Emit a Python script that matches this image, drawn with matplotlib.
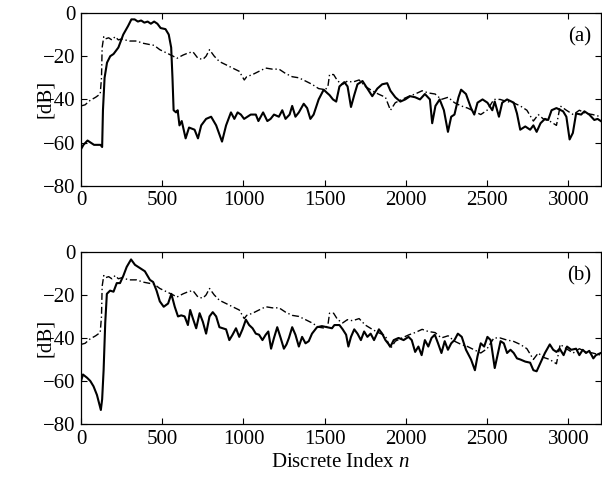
import numpy as np
import matplotlib
matplotlib.use("Agg")
import matplotlib.pyplot as plt

plt.rcParams['font.family'] = ['Liberation Serif', 'DejaVu Serif']
plt.rcParams['mathtext.fontset'] = 'custom'
plt.rcParams['mathtext.rm'] = 'Liberation Serif'
plt.rcParams['mathtext.it'] = 'Liberation Serif:italic'

# Reference (dash-dot) curve, identical in both panels
ref_pts = [(0,-43),(25,-42.5),(55,-40.5),(90,-39),(118,-37.5),(126,-30),(130,-16),(140,-11),(150,-12),
           (170,-11.5),(190,-12.5),(210,-11),(230,-12.5),(250,-12),(271,-12.5),(300,-13),(342,-13),
           (380,-14),(414,-14.5),(450,-15),(485,-17),(526,-18.5),(567,-20),(590,-21),(628,-19.5),
           (660,-18.5),(689,-18),(720,-21),(750,-21.5),(770,-20),(791,-17),(820,-20),(852,-22.5),
           (893,-24),(933,-25.5),(974,-27),(1005,-31),(1020,-29.5),(1056,-28.5),(1096,-27),(1137,-25.5),
           (1178,-26),(1219,-26),(1259,-28),(1300,-29.5),(1341,-30),(1382,-31.5),(1422,-33),(1463,-35),
           (1504,-35.5),(1520,-34),(1530,-28.5),(1555,-28.5),(1580,-31.5),(1611,-33),(1640,-31.5),
           (1672,-32),(1712,-31),(1750,-34),(1793,-36),(1830,-37.5),(1874,-39),(1905,-45),(1935,-41.5),
           (1976,-40),(2020,-38.5),(2057,-37.5),(2100,-36),(2138,-37),(2180,-37.5),(2218,-40),(2260,-39),
           (2299,-41.5),(2340,-43),(2380,-44),(2420,-45.5),(2461,-47),(2500,-45),(2542,-40),(2580,-40),
           (2623,-41),(2660,-41.5),(2704,-43),(2745,-45),(2785,-50),(2815,-47),(2846,-49),(2885,-50),
           (2927,-52),(2950,-43),(2988,-45),(3030,-47),(3068,-45),(3110,-46.5),(3150,-47),(3200,-48)]

# Panel (a) solid curve
a_pts = [(0,-63),(15,-61),(40,-59),(60,-60),(80,-61),(100,-61),(120,-61),(130,-62),(135,-45),(145,-30),
         (160,-23),(180,-20),(200,-19),(230,-16),(260,-10),(290,-6),(310,-3),(330,-3),(350,-4),(370,-3.5),
         (390,-4.5),(410,-4),(430,-5),(450,-4),(470,-5),(490,-7),(520,-7.5),(540,-10),(555,-16),(563,-30),
         (570,-45),(585,-46),(595,-45),(606,-52),(620,-50),(644,-58),(665,-53),(699,-54),(720,-58),(740,-52),
         (770,-49),(801,-48),(832,-52),(868,-59.5),(893,-52),(923,-46),(944,-49),(964,-46),(984,-47),
         (1004,-49),(1025,-48),(1045,-47),(1076,-47),(1092,-50),(1121,-46),(1147,-50),(1167,-49),(1188,-47),
         (1218,-48),(1239,-45),(1259,-49),(1284,-47),(1300,-43),(1320,-48),(1341,-46),(1371,-42),(1392,-44),
         (1412,-49),(1432,-47),(1463,-40),(1494,-35.5),(1515,-37),(1530,-38),(1551,-40),(1571,-41),
         (1591,-34),(1621,-32),(1641,-34),(1662,-43.5),(1682,-38),(1702,-33),(1733,-31.5),(1763,-35),
         (1793,-38.5),(1824,-35),(1854,-33),(1885,-32.5),(1905,-36),(1935,-39),(1966,-41),(1996,-40),
         (2026,-38.5),(2057,-39),(2087,-40),(2117,-37.5),(2148,-40),(2162,-51),(2182,-43),(2208,-40),
         (2234,-45),(2259,-55),(2279,-48),(2299,-47),(2324,-39),(2340,-35.5),(2370,-37.5),(2401,-44),
         (2421,-47),(2441,-41.5),(2472,-40),(2502,-41.5),(2532,-45),(2547,-41),(2573,-48),(2593,-41.5),
         (2623,-40),(2664,-41.5),(2684,-46.5),(2704,-54),(2735,-52.5),(2765,-54),(2785,-52),(2805,-55),
         (2829,-51),(2856,-49),(2876,-49.5),(2897,-45),(2927,-44),(2968,-45.5),(2988,-48),(3008,-58.5),
         (3028,-55.5),(3048,-46.5),(3079,-47),(3099,-45.5),(3129,-47),(3160,-49.5),(3180,-49),(3200,-50)]

# Panel (b) solid curve
b_pts = [(0,-60),(12,-57),(37,-58.5),(57,-60),(77,-62.5),(98,-66.5),(122,-73.5),(130,-68.5),(139,-55),
         (149,-33),(159,-19.5),(179,-18),(200,-18.5),(220,-14.5),(240,-14.5),(261,-11),(281,-7),(308,-3.5),
         (332,-6),(363,-7.5),(393,-9),(424,-13),(444,-14),(465,-18),(485,-23),(509,-25.5),(536,-24),
         (556,-19.5),(577,-25.5),(597,-30),(617,-29.5),(638,-30),(658,-34),(672,-27),(689,-31),(709,-35.5),
         (730,-28.5),(750,-32.5),(770,-38),(791,-30),(811,-28),(832,-30),(852,-35),(872,-35.5),(893,-36),
         (913,-41),(933,-38.5),(954,-35.5),(974,-39.5),(994,-36),(1015,-31.5),(1035,-34),(1056,-35.5),
         (1076,-38),(1096,-38.5),(1117,-41),(1137,-38.5),(1153,-37),(1170,-45),(1188,-40),(1208,-35),
         (1229,-40),(1249,-45),(1265,-43),(1280,-40),(1300,-35),(1320,-38.5),(1341,-44),(1361,-39.5),
         (1382,-42.5),(1402,-41.5),(1422,-38),(1453,-35),(1483,-34.5),(1514,-35),(1545,-35.5),(1560,-34),
         (1591,-34),(1611,-36),(1632,-38.5),(1646,-44),(1662,-39.5),(1682,-36),(1702,-38),(1723,-41),
         (1743,-37),(1763,-39.5),(1783,-38),(1804,-41),(1834,-36),(1854,-38),(1874,-41),(1905,-44),
         (1925,-41),(1955,-40),(1986,-41),(2016,-39.5),(2036,-41),(2057,-46.5),(2077,-44),(2097,-48),
         (2117,-41),(2138,-44),(2158,-40),(2178,-38.5),(2198,-42.5),(2219,-47),(2239,-41.5),(2259,-45.5),
         (2279,-42.5),(2299,-41),(2320,-38),(2344,-39.5),(2370,-45.5),(2401,-50),(2425,-55),(2441,-48.5),
         (2461,-42.5),(2482,-44),(2502,-39.5),(2522,-41),(2547,-54),(2563,-48.5),(2583,-41.5),(2603,-42.5),
         (2623,-47),(2644,-45.5),(2664,-47),(2684,-49.5),(2704,-50),(2735,-51),(2765,-51.5),(2785,-55),
         (2805,-55.5),(2829,-51.5),(2856,-47),(2886,-43),(2907,-45.5),(2927,-46.5),(2947,-45),(2971,-48),
         (2992,-44),(3018,-45.5),(3048,-45),(3068,-48),(3089,-45.5),(3109,-47),(3129,-46),(3154,-49.5),
         (3170,-48),(3200,-47)]

x_ticks = [0, 500, 1000, 1500, 2000, 2500, 3000]
y_ticks = [-80, -60, -40, -20, 0]
panel_labels = ['(a)', '(b)']

ref = np.array(ref_pts)
sa = np.array(a_pts)
sb = np.array(b_pts)

fig = plt.figure(figsize=(6.02, 4.78), dpi=100)
ax1 = fig.add_axes([0.1346, 0.611, 0.8634, 0.362])
ax2 = fig.add_axes([0.1346, 0.113, 0.8634, 0.360])

for ax, s, lab in [(ax1, sa, panel_labels[0]), (ax2, sb, panel_labels[1])]:
    ax.plot(ref[:, 0], ref[:, 1], color='black', lw=1.0, linestyle=(0, (5, 2, 1, 2)))
    ax.plot(s[:, 0], s[:, 1], color='black', lw=1.5)
    ax.set_xlim(0, 3200)
    ax.set_ylim(-80, 0)
    ax.set_xticks(x_ticks)
    ax.set_yticks(y_ticks)
    ax.tick_params(direction='in', top=True, right=True, length=4, width=0.8,
                   labelsize=15, pad=4)
    for sp in ax.spines.values():
        sp.set_linewidth(0.9)
    ax.set_ylabel('[dB]', fontsize=15)
    ax.yaxis.set_label_coords(-0.05, 0.5)
    ax.text(3070, -11, lab, fontsize=15, ha='center', va='center')

ax2.set_xlabel('Discrete Index $n$', fontsize=15, labelpad=3)

fig.savefig('out.png', dpi=100)
